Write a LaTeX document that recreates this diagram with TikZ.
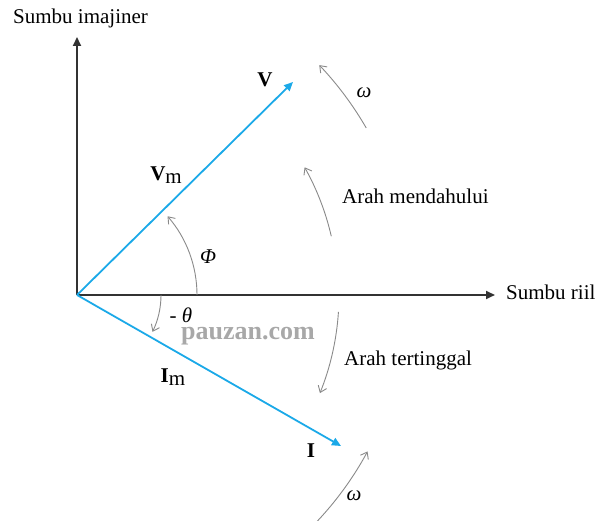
\documentclass[tikz,border=0pt]{standalone}
\usepackage{fontspec}
\setmainfont{Liberation Serif}
\usetikzlibrary{arrows.meta}
\definecolor{vecblue}{HTML}{1BA9E8}
\definecolor{axisgray}{HTML}{333333}
\definecolor{arcgray}{HTML}{8A8A8A}
\definecolor{wmgray}{HTML}{A8A8A8}
\begin{document}
\begin{tikzpicture}[x=1pt,y=1pt,
  axisline/.style={draw=axisgray,line width=1.8pt,-{Triangle[length=9pt,width=8pt]}},
  vecline/.style={draw=vecblue,line width=1.8pt,-{Triangle[length=9pt,width=8pt]}},
  arcline/.style={draw=arcgray,line width=0.9pt,-{Straight Barb[length=6pt,width=9pt]}},
  lbl/.style={font=\fontsize{21}{25}\selectfont,inner sep=0pt},
  vlbl/.style={font=\fontsize{21}{25}\selectfont\bfseries,inner sep=0pt}]
\useasboundingbox (0,0) rectangle (598,521);
\coordinate (O) at (77,226);
\coordinate (Ytip) at (77,484);
\coordinate (Xtip) at (495,226);
\coordinate (Vtip) at (293,439);
\coordinate (Itip) at (341,75);
% axes
\draw[axisline] (O) -- (Ytip);
\draw[axisline] (O) -- (Xtip);
% vectors
\draw[vecline] (O) -- (Vtip);
\draw[vecline] (O) -- (Itip);
% arcs
\draw[arcline] ([shift={(0:120)}]O) arc[start angle=0,end angle=41,radius=120];
\draw[arcline] ([shift={(0:84)}]O) arc[start angle=0,end angle=-26,radius=84];
\draw[arcline] ([shift={(30:334)}]O) arc[start angle=30,end angle=43.5,radius=334];
\draw[arcline] ([shift={(13:261)}]O) arc[start angle=13,end angle=29.3,radius=261];
\draw[arcline] ([shift={(-3.7:262)}]O) arc[start angle=-3.7,end angle=-22,radius=262];
\draw[arcline] ([shift={(-44:330)}]O) arc[start angle=-44,end angle=-28.3,radius=330];
% labels
\node[lbl,anchor=base west] (ylab) at (13,497) {Sumbu imajiner};
\node[lbl,anchor=base west] (xlab) at (506,221) {Sumbu riil};
\node[vlbl] (vlab) at (265,441) {V};
\node[lbl] (vmlab) at (166,346) {\textbf{V}\raisebox{-0.35ex}{m}};
\node[lbl] (w1) at (364,428) {\textit{ω}};
\node[lbl,anchor=base west] (lead) at (342,317) {Arah mendahului};
\node[lbl] (phi) at (208,264) {\textit{Φ}};
\node[lbl] (theta) at (181,206) {- \textit{θ}};
\node[font=\fontsize{26}{30}\selectfont\bfseries,text=wmgray,inner sep=0pt] (wm) at (248,185) {pauzan.com};
\node[lbl,anchor=base west] (lag) at (344,155) {Arah tertinggal};
\node[lbl] (imlab) at (173,144) {\textbf{I}\raisebox{-0.35ex}{m}};
\node[vlbl] (ilab) at (311,70) {I};
\node[lbl] (w2) at (354,25) {\textit{ω}};
\end{tikzpicture}
\end{document}
